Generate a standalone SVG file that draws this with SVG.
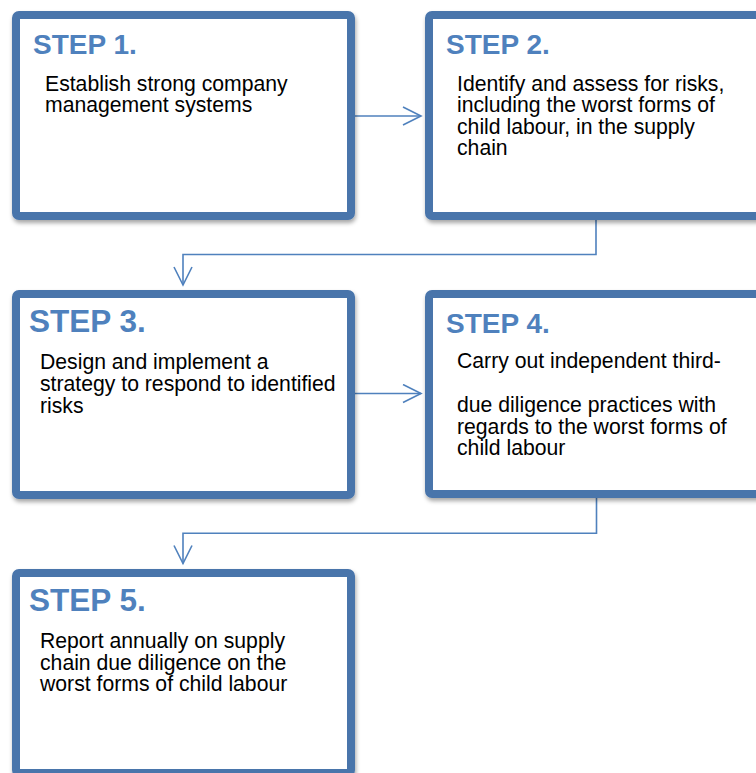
<svg xmlns="http://www.w3.org/2000/svg" width="756" height="773" viewBox="0 0 756 773">
<defs>
<filter id="sh" x="-10%" y="-10%" width="130%" height="130%">
<feDropShadow dx="1" dy="3" stdDeviation="2.2" flood-color="#000" flood-opacity="0.35"/>
</filter>
<marker id="arr" markerUnits="userSpaceOnUse" markerWidth="22" markerHeight="22" viewBox="-1 -1 22 22" refX="18" refY="9" orient="auto">
<path d="M0,0 L18,9 L0,18" fill="none" stroke="#4F81BD" stroke-width="1.6"/>
</marker>
<style>
.box{fill:#fff;stroke:#4874AB;stroke-width:8;filter:url(#sh)}
.step{font-family:"Liberation Sans",Arial,sans-serif;font-weight:bold;fill:#4F81BD}
.s28{font-size:28px}
.s31{font-size:31.5px}
.body{font-family:"Liberation Sans",Arial,sans-serif;font-size:21.2px;fill:#000}
.conn{fill:none;stroke:#4F81BD;stroke-width:1.6;marker-end:url(#arr)}
</style>
</defs>
<rect width="756" height="773" fill="#fff"/>
<g id="connectors">
<path class="conn" d="M355,116 H421"/>
<path class="conn" d="M596,220 V254.5 H183 V285"/>
<path class="conn" d="M355,393.5 H421"/>
<path class="conn" d="M596.5,498 V533.3 H183 V563.5"/>
</g>
<g id="step1">
<rect class="box" x="16" y="15" width="335" height="201" rx="3"/>
<text class="step s28" x="33" y="54">STEP 1.</text>
<text class="body" x="45"><tspan x="45" y="90.7">Establish strong company</tspan><tspan x="45" y="111.7">management systems</tspan></text>
</g>
<g id="step2">
<rect class="box" x="429" y="15" width="340" height="201" rx="3"/>
<text class="step s28" x="446" y="54">STEP 2.</text>
<text class="body"><tspan x="457" y="90.5">Identify and assess for risks,</tspan><tspan x="457" y="112">including the worst forms of</tspan><tspan x="457" y="133.5">child labour, in the supply</tspan><tspan x="457" y="155">chain</tspan></text>
</g>
<g id="step3">
<rect class="box" x="16" y="294" width="335" height="201" rx="3"/>
<text class="step s31" x="29" y="332">STEP 3.</text>
<text class="body"><tspan x="40" y="369.3">Design and implement a</tspan><tspan x="40" y="391">strategy to respond to identified</tspan><tspan x="40" y="412.7">risks</tspan></text>
</g>
<g id="step4">
<rect class="box" x="429" y="294" width="340" height="200" rx="3"/>
<text class="step s28" x="446" y="333">STEP 4.</text>
<text class="body"><tspan x="457" y="368.3">Carry out independent third-</tspan><tspan x="457" y="411.7">due diligence practices with</tspan><tspan x="457" y="433.5">regards to the worst forms of</tspan><tspan x="457" y="455">child labour</tspan></text>
</g>
<g id="step5">
<rect class="box" x="16" y="573" width="335" height="200" rx="3"/>
<text class="step s31" x="29" y="611">STEP 5.</text>
<text class="body"><tspan x="40" y="648.3">Report annually on supply</tspan><tspan x="40" y="669.7">chain due diligence on the</tspan><tspan x="40" y="691">worst forms of child labour</tspan></text>
</g>
</svg>
